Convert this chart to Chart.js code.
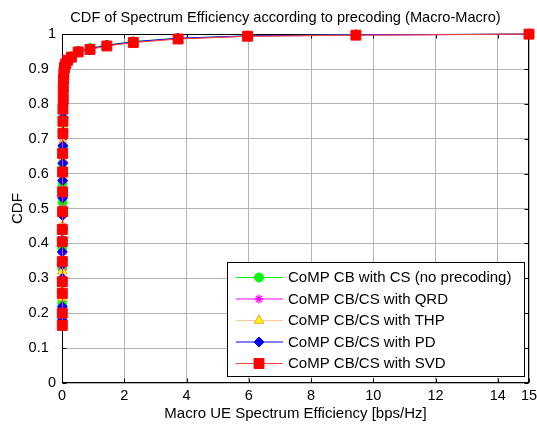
<!DOCTYPE html>
<html>
<head>
<meta charset="utf-8">
<script src="https://cdn.jsdelivr.net/npm/chart.js@4.4.1/dist/chart.umd.min.js"></script>
<style>
  html, body { margin: 0; padding: 0; background: #fff; }
</style>
</head>
<body>
<canvas id="cdfChart" width="537" height="425"></canvas>
<script>
// Datos
const seriesNames = [
    'CoMP CB with CS (no precoding)',
    'CoMP CB/CS with QRD',
    'CoMP CB/CS with THP',
    'CoMP CB/CS with PD',
    'CoMP CB/CS with SVD'
];

const xTicks = [0, 2, 4, 6, 8, 10, 12, 14, 15];
const xTickLabels = ['0', '2', '4', '6', '8', '10', '12', '14', '15'];
const yTicks = [0, 0.1, 0.2, 0.3, 0.4, 0.5, 0.6, 0.7, 0.8, 0.9, 1];
const yTickLabels = ['0', '0.1', '0.2', '0.3', '0.4', '0.5', '0.6', '0.7', '0.8', '0.9', '1'];

// CB with CS
const csX = [0.01, 0.01, 0.01, 0.01, 0.01, 0.01, 0.02, 0.02, 0.02, 0.02, 0.03, 0.03, 0.03, 0.04, 0.04,
    0.05, 0.06, 0.08, 0.12, 0.18, 0.3, 0.52, 0.9, 1.44, 2.29, 3.73, 5.96, 9.44, 15];
const csY = [0.195, 0.228, 0.26, 0.295, 0.329, 0.386, 0.443, 0.517, 0.572, 0.63, 0.677, 0.72, 0.76, 0.8, 0.835,
    0.865, 0.885, 0.9, 0.915, 0.925, 0.937, 0.952, 0.96, 0.969, 0.979, 0.988, 0.995, 0.998, 1.0];

// QRD
const qrdX = [0.01, 0.01, 0.01, 0.01, 0.01, 0.01, 0.01, 0.02, 0.02, 0.02, 0.02, 0.03, 0.03, 0.03, 0.04, 0.04,
    0.05, 0.06, 0.08, 0.12, 0.18, 0.3, 0.52, 0.9, 1.44, 2.29, 3.73, 5.96, 9.44, 15];
const qrdY = [0.18, 0.215, 0.25, 0.29, 0.333, 0.37, 0.41, 0.448, 0.5, 0.55, 0.6, 0.65, 0.7, 0.745, 0.79, 0.83,
    0.86, 0.88, 0.9, 0.913, 0.924, 0.935, 0.95, 0.958, 0.967, 0.977, 0.987, 0.994, 0.997, 1.0];

// THP
const thpX = [0.01, 0.01, 0.01, 0.01, 0.01, 0.01, 0.01, 0.02, 0.02, 0.02, 0.02, 0.03, 0.03, 0.03, 0.04, 0.04,
    0.05, 0.06, 0.08, 0.12, 0.18, 0.3, 0.52, 0.9, 1.44, 2.29, 3.73, 5.96, 9.44, 15];
const thpY = [0.17, 0.205, 0.245, 0.285, 0.32, 0.36, 0.405, 0.45, 0.495, 0.545, 0.59, 0.64, 0.69, 0.735, 0.78, 0.82,
    0.855, 0.88, 0.9, 0.913, 0.924, 0.935, 0.95, 0.957, 0.966, 0.976, 0.986, 0.994, 0.997, 1.0];

// PD
const pdX = [0.01, 0.01, 0.01, 0.01, 0.01, 0.01, 0.01, 0.02, 0.02, 0.02, 0.02, 0.03, 0.03, 0.03, 0.04, 0.04,
    0.05, 0.06, 0.08, 0.12, 0.18, 0.3, 0.52, 0.9, 1.44, 2.29, 3.73, 5.96, 9.44, 15];
const pdY = [0.18, 0.219, 0.26, 0.3, 0.34, 0.376, 0.41, 0.44, 0.48, 0.53, 0.58, 0.63, 0.68, 0.72, 0.76, 0.8,
    0.84, 0.87, 0.89, 0.905, 0.918, 0.93, 0.951, 0.958, 0.968, 0.978, 0.988, 0.995, 0.998, 1.0];

// SVD
const svdX = [0.01, 0.01, 0.01, 0.01, 0.01, 0.01, 0.01, 0.02, 0.02, 0.02, 0.02, 0.03, 0.03, 0.03, 0.04, 0.04,
    0.05, 0.06, 0.08, 0.12, 0.18, 0.3, 0.52, 0.9, 1.44, 2.29, 3.73, 5.96, 9.44, 15];
const svdY = [0.165, 0.2, 0.257, 0.29, 0.348, 0.405, 0.44, 0.491, 0.548, 0.605, 0.658, 0.715, 0.75, 0.785, 0.815, 0.845,
    0.87, 0.89, 0.905, 0.915, 0.925, 0.934, 0.949, 0.956, 0.966, 0.976, 0.986, 0.994, 0.997, 1.0];

function toPoints(xs, ys) {
    return xs.map((x, i) => ({ x: x, y: ys[i] }));
}

const FONT = "'Liberation Sans', Arial, sans-serif";
Chart.defaults.font.family = FONT;
Chart.defaults.font.size = 15;
Chart.defaults.color = '#000';

// estilos de cada serie (linea, relleno, borde del marcador)
const styles = [
    { line: '#00ff00', fill: '#00ff00', edge: '#00ff00', shape: 'circle', r: 4.5, lw: 1 },
    { line: '#ff00ff', fill: '#ff00ff', edge: '#ff00ff', shape: 'star', r: 4.5, lw: 1.3 },
    { line: '#ffc896', fill: '#ffff00', edge: '#ff9a30', shape: 'triangle', r: 5.5, lw: 1 },
    { line: '#0000ff', fill: '#0000ff', edge: '#0000ff', shape: 'rectRot', r: 5, lw: 1 },
    { line: '#ff4040', fill: '#ff0000', edge: '#ff0000', shape: 'rect', r: 7, lw: 1 }
];

const seriesData = [
    toPoints(csX, csY),
    toPoints(qrdX, qrdY),
    toPoints(thpX, thpY),
    toPoints(pdX, pdY),
    toPoints(svdX, svdY)
];

const datasets = seriesData.map((d, i) => ({
    label: seriesNames[i],
    data: d,
    order: seriesData.length - 1 - i, // SVD arriba
    borderColor: styles[i].line,
    borderWidth: 1,
    backgroundColor: styles[i].fill,
    pointBackgroundColor: styles[i].fill,
    pointBorderColor: styles[i].edge,
    pointBorderWidth: styles[i].lw,
    pointStyle: styles[i].shape,
    pointRadius: styles[i].r,
    tension: 0,
    showLine: true,
    clip: false
}));

// marco negro y marcas hacia dentro (estilo matlab)
const framePlugin = {
    id: 'frame',
    beforeDatasetsDraw(chart) {
        const { ctx, chartArea: a, scales } = chart;
        const L = Math.round(a.left) + 0.5, R = Math.round(a.right) - 0.5;
        const T = Math.round(a.top) + 0.5, B = Math.round(a.bottom) - 0.5;
        ctx.save();
        ctx.strokeStyle = '#000';
        ctx.lineWidth = 1;
        ctx.strokeRect(L, T, R - L, B - T);
        ctx.beginPath();
        xTicks.forEach(v => {
            const px = Math.round(scales.x.getPixelForValue(v)) + 0.5;
            ctx.moveTo(px, B); ctx.lineTo(px, B - 4);
            ctx.moveTo(px, T); ctx.lineTo(px, T + 4);
        });
        yTicks.forEach(v => {
            const py = Math.round(scales.y.getPixelForValue(v)) + 0.5;
            ctx.moveTo(L, py); ctx.lineTo(L + 4, py);
            ctx.moveTo(R, py); ctx.lineTo(R - 4, py);
        });
        ctx.stroke();
        ctx.restore();
    }
};

// leyenda dentro del area del grafico
const legendPlugin = {
    id: 'boxLegend',
    afterDatasetsDraw(chart) {
        const ctx = chart.ctx;
        const bx = 227.5, by = 262.5, bw = 297, bh = 114;
        ctx.save();
        ctx.fillStyle = '#fff';
        ctx.fillRect(bx, by, bw, bh);
        ctx.strokeStyle = '#000';
        ctx.lineWidth = 1;
        ctx.strokeRect(bx, by, bw, bh);
        ctx.font = '15px ' + FONT;
        ctx.textBaseline = 'middle';
        chart.data.datasets.forEach((ds, i) => {
            const y = 277.5 + i * 21.5;
            const st = styles[i];
            ctx.strokeStyle = st.line;
            ctx.lineWidth = 1;
            ctx.beginPath();
            ctx.moveTo(236, y); ctx.lineTo(283, y);
            ctx.stroke();
            ctx.fillStyle = st.fill;
            ctx.strokeStyle = st.edge;
            ctx.lineWidth = st.lw;
            if (Chart.helpers && Chart.helpers.drawPoint) {
                Chart.helpers.drawPoint(ctx, { pointStyle: st.shape, radius: st.r, rotation: 0, borderWidth: st.lw }, 259, y);
            }
            ctx.fillStyle = '#000';
            ctx.fillText(ds.label, 288, y + 0.5);
        });
        ctx.restore();
    }
};

// centrar el titulo sobre el area de ejes
const titlePlugin = {
    id: 'titleShift',
    afterLayout(chart) {
        if (chart.titleBlock) {
            chart.titleBlock.left = 34;
            chart.titleBlock.right = 537;
        }
    }
};

new Chart(document.getElementById('cdfChart'), {
    type: 'scatter',
    data: { datasets: datasets },
    options: {
        responsive: false,
        animation: false,
        events: [],
        layout: { padding: { left: 0, right: 8, top: 0, bottom: 0 } },
        plugins: {
            legend: { display: false },
            tooltip: { enabled: false },
            title: {
                display: true,
                text: 'CDF of Spectrum Efficiency according to precoding (Macro-Macro)',
                font: { size: 14.6, weight: 'normal' },
                color: '#000',
                padding: { top: 9, bottom: 7.6 }
            }
        },
        scales: {
            x: {
                type: 'linear',
                min: 0,
                max: 15,
                afterBuildTicks: s => { s.ticks = xTicks.map(v => ({ value: v })); },
                afterFit: s => { s.height = 42; s.paddingLeft = 0; s.paddingRight = 0; },
                ticks: {
                    callback: (v, i) => xTickLabels[i],
                    font: { size: 14.5 },
                    padding: 4,
                    maxRotation: 0,
                    autoSkip: false,
                    color: '#000'
                },
                grid: { color: '#b4b4b4', drawTicks: false },
                border: { display: false },
                title: {
                    display: true,
                    text: 'Macro UE Spectrum Efficiency [bps/Hz]',
                    color: '#000',
                    padding: { top: 0, bottom: 2 }
                }
            },
            y: {
                type: 'linear',
                min: 0,
                max: 1,
                afterBuildTicks: s => { s.ticks = yTicks.map(v => ({ value: v })); },
                afterFit: s => { s.width = 62; s.paddingTop = 0; s.paddingBottom = 0; },
                ticks: {
                    // en matlab las etiquetas decimales quedan algo mas a la izquierda
                    callback: (v, i) => yTickLabels[i].includes('.') ? yTickLabels[i] + '\u2002' : yTickLabels[i],
                    font: { size: 14.5 },
                    padding: 6,
                    autoSkip: false,
                    color: '#000'
                },
                grid: { color: '#b4b4b4', drawTicks: false },
                border: { display: false },
                title: {
                    display: true,
                    text: 'CDF',
                    color: '#000',
                    padding: { top: 9, bottom: 4 }
                }
            }
        }
    },
    plugins: [framePlugin, legendPlugin, titlePlugin]
});
</script>
</body>
</html>
